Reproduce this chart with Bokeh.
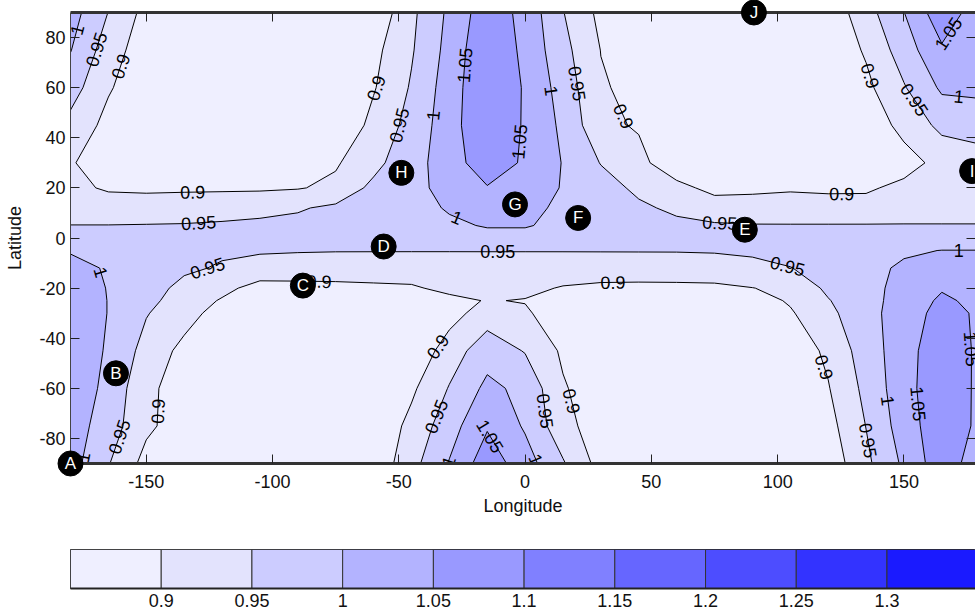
import numpy as np
from bokeh.plotting import figure
from bokeh.plotting.contour import contour_data
from bokeh.layouts import column
from bokeh.models import Range1d, LinearAxis, FixedTicker, ColumnDataSource
from bokeh.core.properties import value
from bokeh.embed import file_html
from bokeh.resources import INLINE

FONT = "Liberation Sans"

# ---------------- data ----------------
lon_nodes = [-180, -165, -150, -135, -120, -105, -90, -75, -60, -45, -30, -15, 0,
             15, 30, 45, 60, 75, 90, 105, 120, 135, 150, 165, 180]
lat_nodes = [-90, -75, -60, -45, -30, -25, -20, -12, -5, 0, 5, 12, 20, 30, 45, 60, 75, 90]

row_s90 = [1.020, 0.953, 0.883, 0.862, 0.855, 0.852, 0.851, 0.852, 0.863, 0.933, 1.003, 1.079, 1.022, 0.955, 0.881, 0.862, 0.855, 0.852, 0.852, 0.855, 0.868, 0.939, 1.009, 1.081, 1.020]
row_s75 = [1.025, 0.975, 0.910, 0.875, 0.860, 0.855, 0.853, 0.853, 0.860, 0.914, 0.979, 1.045, 0.994, 0.918, 0.872, 0.857, 0.853, 0.853, 0.855, 0.862, 0.883, 0.951, 1.025, 1.083, 1.040]
row_s60 = [1.030, 0.988, 0.910, 0.880, 0.862, 0.855, 0.852, 0.852, 0.858, 0.891, 0.953, 1.012, 0.987, 0.905, 0.870, 0.855, 0.852, 0.852, 0.855, 0.865, 0.897, 0.963, 1.032, 1.085, 1.040]
row_s45 = [1.030, 0.995, 0.932, 0.886, 0.865, 0.858, 0.855, 0.853, 0.855, 0.859, 0.925, 0.979, 0.947, 0.892, 0.860, 0.853, 0.852, 0.853, 0.857, 0.868, 0.910, 0.975, 1.028, 1.086, 1.040]
row_s30 = [1.025, 0.999, 0.953, 0.920, 0.879, 0.868, 0.865, 0.863, 0.862, 0.865, 0.880, 0.925, 0.906, 0.875, 0.862, 0.858, 0.858, 0.860, 0.868, 0.895, 0.935, 0.991, 1.013, 1.075, 1.040]
row_s25 = [1.025, 0.999, 0.962, 0.930, 0.895, 0.873, 0.874, 0.875, 0.877, 0.880, 0.890, 0.902, 0.898, 0.886, 0.876, 0.873, 0.873, 0.874, 0.880, 0.905, 0.947, 0.988, 1.014, 1.060, 1.035]
row_s20 = [1.025, 0.998, 0.970, 0.937, 0.915, 0.880, 0.885, 0.888, 0.892, 0.895, 0.910, 0.906, 0.910, 0.897, 0.890, 0.888, 0.888, 0.889, 0.899, 0.912, 0.960, 0.985, 1.015, 1.045, 1.030]
row_s12 = [1.020, 0.994, 0.975, 0.958, 0.945, 0.935, 0.928, 0.925, 0.923, 0.922, 0.922, 0.923, 0.923, 0.924, 0.926, 0.928, 0.930, 0.933, 0.940, 0.949, 0.963, 0.985, 1.008, 1.020, 1.020]
row_s5 = [0.995, 0.985, 0.972, 0.962, 0.957, 0.954, 0.953, 0.952, 0.952, 0.952, 0.952, 0.952, 0.952, 0.952, 0.952, 0.952, 0.952, 0.953, 0.956, 0.962, 0.972, 0.985, 0.993, 1.001, 1.001]
row_eq = [0.965, 0.966, 0.967, 0.968, 0.969, 0.970, 0.972, 0.975, 0.978, 0.981, 0.984, 0.987, 0.987, 0.983, 0.979, 0.975, 0.972, 0.970, 0.969, 0.968, 0.968, 0.968, 0.968, 0.967, 0.966]
row_n5 = [0.951, 0.951, 0.952, 0.953, 0.956, 0.959, 0.963, 0.970, 0.977, 0.985, 0.993, 1.003, 1.003, 0.990, 0.977, 0.968, 0.960, 0.955, 0.953, 0.953, 0.953, 0.953, 0.953, 0.953, 0.953]
row_n12 = [0.920, 0.920, 0.922, 0.925, 0.930, 0.937, 0.945, 0.960, 0.972, 0.985, 1.004, 1.015, 1.013, 0.991, 0.975, 0.958, 0.941, 0.925, 0.915, 0.912, 0.912, 0.913, 0.920, 0.920, 0.920]
row_n20 = [0.910, 0.895, 0.892, 0.893, 0.893, 0.893, 0.897, 0.910, 0.964, 0.985, 1.017, 1.045, 1.035, 0.996, 0.970, 0.940, 0.915, 0.885, 0.893, 0.897, 0.895, 0.895, 0.909, 0.915, 0.910]
row_n30 = [0.905, 0.870, 0.858, 0.852, 0.852, 0.852, 0.855, 0.895, 0.932, 0.991, 1.012, 1.098, 1.038, 0.998, 0.948, 0.915, 0.865, 0.855, 0.853, 0.853, 0.856, 0.865, 0.885, 0.912, 0.925]
row_n45 = [0.935, 0.885, 0.862, 0.853, 0.852, 0.851, 0.851, 0.855, 0.915, 0.967, 1.028, 1.097, 1.044, 0.990, 0.912, 0.895, 0.870, 0.855, 0.852, 0.852, 0.855, 0.875, 0.912, 0.964, 0.975]
row_n60 = [0.972, 0.905, 0.867, 0.858, 0.855, 0.853, 0.853, 0.857, 0.896, 0.955, 1.025, 1.095, 1.045, 0.979, 0.905, 0.886, 0.865, 0.858, 0.855, 0.855, 0.862, 0.888, 0.946, 1.008, 1.010]
row_n75 = [1.002, 0.925, 0.871, 0.862, 0.858, 0.857, 0.858, 0.862, 0.886, 0.945, 1.017, 1.093, 1.038, 0.966, 0.899, 0.872, 0.862, 0.860, 0.858, 0.858, 0.862, 0.906, 0.975, 1.043, 1.002]
row_n90 = [1.021, 0.949, 0.884, 0.870, 0.865, 0.862, 0.862, 0.865, 0.861, 0.939, 1.010, 1.080, 1.035, 0.952, 0.887, 0.875, 0.870, 0.868, 0.866, 0.866, 0.866, 0.930, 0.999, 1.083, 1.021]

levels = [0.85, 0.90, 0.95, 1.00, 1.05, 1.10, 1.15, 1.20, 1.25, 1.30, 1.35]
level_colors = ["#EFEFFF", "#E3E3FD", "#CCCCFF", "#B3B3FF", "#9999FF",
                "#8080FF", "#6666FF", "#4D4DFF", "#3333FF", "#1A1AFF"]
cbar_ticks = [0.9, 0.95, 1.0, 1.05, 1.1, 1.15, 1.2, 1.25, 1.3]
cbar_tick_labels = ["0.9", "0.95", "1", "1.05", "1.1", "1.15", "1.2", "1.25", "1.3"]

x_ticks = [-150, -100, -50, 0, 50, 100, 150]
x_tick_labels = ["-150", "-100", "-50", "0", "50", "100", "150"]
y_ticks = [-80, -60, -40, -20, 0, 20, 40, 60, 80]
y_tick_labels = ["-80", "-60", "-40", "-20", "0", "20", "40", "60", "80"]

point_names = ["A", "B", "C", "D", "E", "F", "G", "H", "I", "J"]
point_lon = [-180, -162, -88, -56, 87, 21, -4, -49, 177, 90.6]
point_lat = [-90, -54, -19, -3.4, 3.3, 8, 13.4, 26, 26.7, 90]

label_lon = [-177, -169, -159.6, -131.6, -129.3, -58.5, -49.9, -37.3, -24.7, -0.9, 10.3,
             21.2, 38.4, -27.4, 135.3, 151.9, 170.4, 171.7, 125.4, 77.1, -10.8, 34.8,
             -125.3, -81.6, -168, -147.7, -161.6, -172.9, -33.3, -34, -14.8, 8.3, 18.9,
             -30.7, 4.4, 103.6, 118.1, 134.6, 143.3, 154.1, 171.7, 177]
label_lat = [83, 75, 68.3, 16.6, 5.9, 59.7, 45, 49, 69, 38.3, 58.7,
             61.7, 48.3, 7.3, 64.3, 53.7, 79.7, 56.3, 16.6, 7, -5, -19.4,
             -13, -16.7, -13.7, -69, -79, -88, -44.3, -71.7, -79.7, -69, -65,
             -89, -88.3, -12.3, -51.7, -81, -65, -66.3, -5.7, -44.3]
label_text = ["1", "0.95", "0.9", "0.9", "0.95", "0.9", "0.95", "1", "1.05", "1.05", "1",
              "0.95", "0.9", "1", "0.9", "0.95", "1.05", "1", "0.9", "0.95", "0.95", "0.9",
              "0.95", "0.9", "1", "0.9", "0.95", "1", "0.9", "0.95", "1.05", "0.95", "0.9",
              "1", "1", "0.95", "0.9", "0.95", "1", "1.05", "1", "1.05"]

# ---------------- build field ----------------
z = np.array([row_s90, row_s75, row_s60, row_s45, row_s30, row_s25, row_s20, row_s12, row_s5,
              row_eq, row_n5, row_n12, row_n20, row_n30, row_n45, row_n60, row_n75, row_n90])
x = np.array(lon_nodes, dtype=float)
y = np.array(lat_nodes, dtype=float)

PX_PER_DEG = 2.52
FRAME_LEFT = 70
MAIN_W = 975
RIGHT_AXIS = 2
FRAME_W = MAIN_W - FRAME_LEFT - RIGHT_AXIS
X_END = -180 + FRAME_W / PX_PER_DEG
FRAME_H = 450
sx = PX_PER_DEG
sy = FRAME_H / 180.0

p = figure(width=MAIN_W, height=518, x_range=Range1d(-180, X_END), y_range=Range1d(-90, 90),
           output_backend="svg", toolbar_location=None,
           min_border_left=FRAME_LEFT, min_border_right=0, min_border_top=12, min_border_bottom=0,
           x_axis_label="Longitude", y_axis_label="Latitude")
p.outline_line_color = None
p.xgrid.grid_line_color = None
p.ygrid.grid_line_color = None
p.background_fill_color = "white"

p.contour(x, y, z, levels, fill_color=level_colors, line_color="black", line_width=1)

# contour labels placed on the computed contour lines
cd = contour_data(x, y, z, levels, want_fill=False, want_line=True)
lxs, lys = cd.line_data.xs, cd.line_data.ys
lab_x, lab_y, lab_a = [], [], []
for lx, ly, t in zip(label_lon, label_lat, label_text):
    idx = int(np.argmin(np.abs(np.array(levels) - float(t))))
    xs = np.asarray(lxs[idx], dtype=float)
    ys = np.asarray(lys[idx], dtype=float)
    best = None
    for k in range(len(xs) - 1):
        if np.isnan(xs[k]) or np.isnan(xs[k + 1]):
            continue
        ax, ay = xs[k] * sx, ys[k] * sy
        bx, by = xs[k + 1] * sx, ys[k + 1] * sy
        px, py = lx * sx, ly * sy
        dx, dy = bx - ax, by - ay
        L2 = dx * dx + dy * dy
        if L2 == 0:
            continue
        tt = max(0.0, min(1.0, ((px - ax) * dx + (py - ay) * dy) / L2))
        qx, qy = ax + tt * dx, ay + tt * dy
        d = (qx - px) ** 2 + (qy - py) ** 2
        if best is None or d < best[0]:
            ang = np.arctan2(dy, dx)
            if ang > np.pi / 2:
                ang -= np.pi
            elif ang <= -np.pi / 2:
                ang += np.pi
            best = (d, qx / sx, qy / sy, ang)
    if best is None or best[0] > 30 ** 2:
        lab_x.append(lx); lab_y.append(ly); lab_a.append(0.0)
    else:
        lab_x.append(best[1]); lab_y.append(best[2]); lab_a.append(best[3])

p.text(x=lab_x, y=lab_y, text=label_text, angle=lab_a, text_align="center",
       text_baseline="middle", text_color="black", text_font=value(FONT),
       text_font_size="18px")

pts = ColumnDataSource(dict(x=point_lon, y=point_lat, name=point_names))
p.scatter("x", "y", source=pts, size=25, color="black", level="overlay")
p.text("x", "y", text="name", source=pts, text_color="white", text_align="center",
       text_baseline="middle", text_font=value(FONT), text_font_size="17px", level="overlay")

# axes
for ax in (p.xaxis[0], p.yaxis[0]):
    ax.major_tick_in = 9
    ax.major_tick_out = 0
    ax.minor_tick_line_color = None
    ax.major_tick_line_color = "#222222"
    ax.major_label_text_font = FONT
    ax.major_label_text_font_size = "18px"
    ax.major_label_text_color = "#111111"
    ax.axis_label_text_font = FONT
    ax.axis_label_text_font_size = "18px"
    ax.axis_label_text_font_style = "normal"
    ax.axis_label_text_color = "#111111"
p.xaxis.ticker = FixedTicker(ticks=x_ticks)
p.xaxis.major_label_overrides = {t: s for t, s in zip(x_ticks, x_tick_labels)}
p.yaxis.ticker = FixedTicker(ticks=y_ticks)
p.yaxis.major_label_overrides = {t: s for t, s in zip(y_ticks, y_tick_labels)}
p.xaxis.axis_line_width = 3
p.xaxis.axis_line_color = "#333333"
p.xaxis.major_label_standoff = 11
p.xaxis.axis_label_standoff = 5
p.yaxis.axis_line_width = 1
p.yaxis.axis_line_color = "#444444"
p.yaxis.major_label_standoff = 5
p.yaxis.axis_label_standoff = 11

top = LinearAxis(ticker=FixedTicker(ticks=x_ticks), major_tick_in=9, major_tick_out=0,
                 minor_tick_line_color=None, major_label_text_font_size="1px",
                 major_label_text_color=None, major_label_standoff=0,
                 axis_line_width=3, axis_line_color="#333333",
                 major_tick_line_color="#222222")
p.add_layout(top, "above")
right = LinearAxis(ticker=FixedTicker(ticks=y_ticks), major_tick_in=9, major_tick_out=0,
                   minor_tick_line_color=None, major_label_text_font_size="1px",
                   major_label_text_color=None, major_label_standoff=0,
                   axis_line_width=1, axis_line_color="#444444",
                   major_tick_line_color="#222222")
p.add_layout(right, "right")

# ---------------- colour bar ----------------
CB_W = 975
cb = figure(width=CB_W, height=91,
            x_range=Range1d(0.85, 0.85 + (CB_W - FRAME_LEFT) * 0.05 / (PX_PER_DEG * 36)),
            y_range=Range1d(0, 1), output_backend="svg", toolbar_location=None,
            min_border_left=FRAME_LEFT, min_border_right=0, min_border_top=31, min_border_bottom=0)
cb.quad(left=levels[:-1], right=levels[1:], bottom=0, top=1, fill_color=level_colors,
        line_color="#333333", line_width=1)
cb.xgrid.grid_line_color = None
cb.ygrid.grid_line_color = None
cb.yaxis.visible = False
cb.outline_line_color = "#222222"
cb.outline_line_width = 1
cb.xaxis.ticker = FixedTicker(ticks=cbar_ticks)
cb.xaxis.major_label_overrides = {t: s for t, s in zip(cbar_ticks, cbar_tick_labels)}
cb.xaxis.major_tick_in = 0
cb.xaxis.major_tick_out = 0
cb.xaxis.minor_tick_line_color = None
cb.xaxis.axis_line_width = 2
cb.xaxis.axis_line_color = "#222222"
cb.xaxis.major_label_standoff = 5
cb.xaxis.major_label_text_font = FONT
cb.xaxis.major_label_text_font_size = "18px"
cb.xaxis.major_label_text_color = "#111111"

layout = column(p, cb, spacing=0)
open("out.html", "w").write(file_html(layout, INLINE))
